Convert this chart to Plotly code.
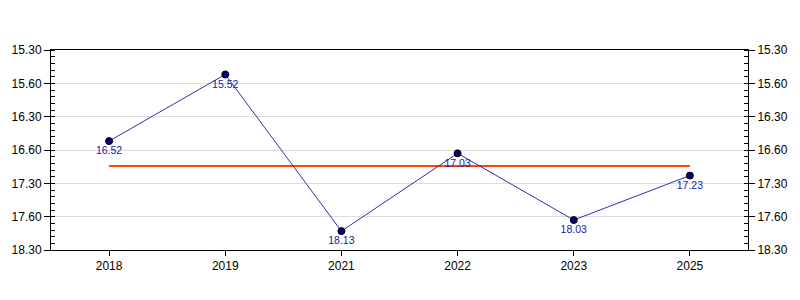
import plotly.graph_objects as go

years = ["2018", "2019", "2021", "2022", "2023", "2025"]
times = ["16.52", "15.52", "18.13", "17.03", "18.03", "17.23"]  # minutes.seconds
tick_vals = [15.5, 16.0, 16.5, 17.0, 17.5, 18.0, 18.5]
tick_text = ["15.30", "15.60", "16.30", "16.60", "17.30", "17.60", "18.30"]

def to_minutes(t):
    m, s = t.split(".")
    return int(m) + int(s) / 60.0

vals = [to_minutes(t) for t in times]
mean_val = sum(vals) / len(vals)

FONT = "Liberation Sans, Arial, sans-serif"

fig = go.Figure()
fig.add_trace(go.Scatter(
    x=[years[0], years[-1]], y=[mean_val, mean_val], mode="lines",
    line=dict(color="#FF4500", width=2), hoverinfo="skip", showlegend=False))
fig.add_trace(go.Scatter(
    x=years, y=vals, mode="lines+markers+text",
    text=times, textposition="bottom center",
    textfont=dict(family=FONT, size=10.5, color="#2020A0"),
    line=dict(color="#3030B0", width=1),
    marker=dict(color="#000080", size=7, line=dict(color="#000000", width=1)),
    showlegend=False))
fig.add_trace(go.Scatter(
    x=years, y=vals, yaxis="y2", mode="markers",
    marker=dict(opacity=0), hoverinfo="skip", showlegend=False))

yax = dict(
    range=[18.5, 15.5], tickmode="array", tickvals=tick_vals, ticktext=tick_text,
    ticks="outside", ticklen=6, tickcolor="#000", tickwidth=1,
    showline=True, linecolor="#000", linewidth=1,
    showgrid=True, gridcolor="#dddddd", gridwidth=1, zeroline=False,
    tickfont=dict(family=FONT, size=12, color="#000"),
    minor=dict(dtick=0.1, tick0=15.5, ticks="inside", ticklen=4, tickcolor="#000", showgrid=False),
)

fig.update_layout(
    width=800, height=300,
    margin=dict(l=50, r=50, t=50, b=50),
    paper_bgcolor="white", plot_bgcolor="white",
    xaxis=dict(
        type="category", categoryorder="array", categoryarray=years, range=[-0.5, 5.5],
        ticks="outside", ticklen=5, tickcolor="#000",
        showline=True, linecolor="#000", linewidth=1, mirror=True,
        showgrid=False, tickfont=dict(family=FONT, size=12, color="#000")),
    yaxis=yax,
    yaxis2=dict(yax, overlaying="y", side="right", showgrid=False),
)

fig.write_html("out.html")
